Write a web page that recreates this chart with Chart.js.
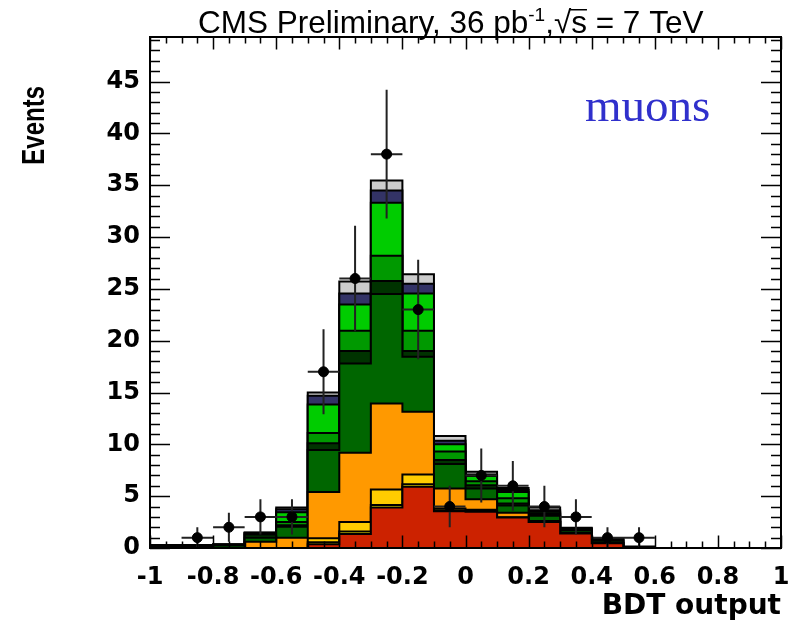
<!DOCTYPE html>
<html><head><meta charset="utf-8">
<script src="https://cdn.jsdelivr.net/npm/chart.js@4"></script>
<style>html,body{margin:0;padding:0;background:#fff;overflow:hidden}</style>
</head><body>
<canvas id="c" width="791" height="623"></canvas>
<script>
// ---- data ----
const binEdges = [-1,-0.9,-0.8,-0.7,-0.6,-0.5,-0.4,-0.3,-0.2,-0.1,0,0.1,0.2,0.3,0.4,0.5,0.6,0.7,0.8,0.9,1];
const binCenters = [-0.95,-0.85,-0.75,-0.65,-0.55,-0.45,-0.35,-0.25,-0.15,-0.05,0.05,0.15,0.25,0.35,0.45,0.55,0.65,0.75,0.85,0.95];
const xTickValues = [-1,-0.8,-0.6,-0.4,-0.2,0,0.2,0.4,0.6,0.8,1];
const xTickLabels = ['-1','-0.8','-0.6','-0.4','-0.2','0','0.2','0.4','0.6','0.8','1'];
const yTickValues = [0,5,10,15,20,25,30,35,40,45];
const yTickLabels = ['0','5','10','15','20','25','30','35','40','45'];

// stacked background components, bottom to top
const redComp     = [0,0,0,0,0,0.35,1.35,3.9,5.9,3.55,3.5,2.95,2.5,1.4,0.45,0,0,0,0,0];
const yellowThin  = [0,0,0,0,0,0.2,0.25,0.25,0.25,0.1,0.1,0,0,0,0,0,0,0,0,0];
const yellowComp  = [0,0,0,0,0,0.4,0.9,1.5,0.95,0.15,0.1,0,0,0,0,0,0,0,0,0];
const orangeComp  = [0,0,0,0.6,1.0,4.45,6.7,8.3,6.05,1.95,1.0,0.45,0.1,0.05,0.05,0,0,0,0,0];
const darkGreen   = [0.2,0.2,0.25,0.4,1.05,4.05,8.6,10.55,5.3,2.35,1.05,0.7,0.5,0.25,0.2,0.05,0,0,0,0];
const darkerGreen = [0.05,0.05,0.05,0.3,0.15,0.65,1.2,1.25,0.55,0.4,0.3,0.2,0.15,0.05,0.05,0,0,0,0,0];
const medGreen    = [0,0,0.02,0.1,0.3,1.0,1.95,2.45,1.95,0.8,0.4,0.5,0.1,0.05,0.05,0,0,0,0,0];
const brightGreen = [0,0,0,0.05,0.95,2.75,2.55,5.1,3.6,0.7,0.5,0.6,0.15,0.05,0.05,0,0,0,0,0];
const navyComp    = [0.02,0.02,0.02,0.03,0.3,0.85,1.05,1.2,0.95,0.35,0.15,0.2,0.15,0.05,0.05,0,0,0,0,0];
const grayComp    = [0.03,0.03,0.03,0.02,0.15,0.3,1.15,0.95,0.9,0.45,0.25,0.2,0.25,0.05,0.05,0.1,0,0,0,0];

// observed data and errors
const dataCounts = [null,1,2,3,3,17,26,38,23,4,7,6,4,3,1,1,null,null,null,null];
const dataErrors = [null,1,1.4,1.7,1.7,4.1,5.1,6.2,4.8,2,2.6,2.4,2,1.7,1,1,null,null,null,null];

const components = [
  {v: redComp,     c: '#cc2200'},
  {v: yellowThin,  c: '#ffee00'},
  {v: yellowComp,  c: '#ffcc00'},
  {v: orangeComp,  c: '#ff9900'},
  {v: darkGreen,   c: '#006600'},
  {v: darkerGreen, c: '#003300'},
  {v: medGreen,    c: '#009900'},
  {v: brightGreen, c: '#00cc00'},
  {v: navyComp,    c: '#333366'},
  {v: grayComp,    c: '#cccccc'}
];

const datasets = components.map((comp, k) => ({
  type: 'line',
  data: binEdges.map((x, i) => ({x: x, y: i < comp.v.length ? comp.v[i] : 0})),
  backgroundColor: comp.c,
  borderColor: '#000',
  borderWidth: 2,
  pointRadius: 0,
  stepped: true,
  fill: k === 0 ? 'origin' : '-1',
  stack: 'bkg',
  order: 1
}));
const obsIndex = datasets.length;
datasets.push({
  type: 'scatter',
  data: binCenters.map((x, i) => ({x: x, y: dataCounts[i]})),
  backgroundColor: '#000',
  borderColor: '#000',
  pointRadius: 5,
  showLine: false,
  stack: 'obs',
  order: 0
});

const labelFamily = "'DejaVu Sans', Verdana, sans-serif";

const decor = {
  id: 'decor',
  beforeDatasetDraw(chart, args) {
    if (args.index !== obsIndex) return;
    const {ctx, chartArea: a} = chart;
    const xs = chart.scales.x, ys = chart.scales.y;
    ctx.save();
    ctx.beginPath(); ctx.rect(a.left, a.top, a.right - a.left, a.bottom - a.top); ctx.clip();
    ctx.strokeStyle = '#222'; ctx.lineWidth = 2;
    dataCounts.forEach((n, i) => {
      if (n === null) return;
      const e = dataErrors[i];
      const xc = xs.getPixelForValue(binCenters[i]);
      const xl = xs.getPixelForValue(binEdges[i]);
      const xr = xs.getPixelForValue(binEdges[i + 1]);
      const yc = ys.getPixelForValue(n);
      ctx.beginPath();
      ctx.moveTo(xl, yc); ctx.lineTo(xr, yc);
      ctx.moveTo(xc, ys.getPixelForValue(Math.max(0, n - e)));
      ctx.lineTo(xc, ys.getPixelForValue(n + e));
      ctx.stroke();
    });
    ctx.restore();
  },
  afterDatasetsDraw(chart) {
    const {ctx, chartArea: a} = chart;
    const xs = chart.scales.x, ys = chart.scales.y;
    ctx.save();
    ctx.strokeStyle = '#000'; ctx.lineWidth = 1.5;
    ctx.beginPath();
    for (let v = 0; v <= 49; v += 1) {
      const y = Math.round(ys.getPixelForValue(v)) + 0.5;
      const len = (v % 5 === 0) ? 20 : 10;
      ctx.moveTo(a.left, y); ctx.lineTo(a.left + len, y);
      ctx.moveTo(a.right, y); ctx.lineTo(a.right - len, y);
    }
    for (let k = 0; k <= 40; k++) {
      const v = -1 + k * 0.05;
      const x = Math.round(xs.getPixelForValue(v)) + 0.5;
      const len = (k % 4 === 0) ? 12.5 : 6.5;
      ctx.moveTo(x, a.bottom); ctx.lineTo(x, a.bottom - len);
      ctx.moveTo(x, a.top); ctx.lineTo(x, a.top + len);
    }
    ctx.stroke();
    ctx.lineWidth = 2;
    ctx.strokeRect(a.left, a.top, a.right - a.left, a.bottom - a.top);
    ctx.restore();
  },
  afterDraw(chart) {
    const {ctx, chartArea: a} = chart;
    ctx.save();
    ctx.fillStyle = '#000';
    const big = "31.5px 'Liberation Sans', Arial, sans-serif";
    const small = "19px 'Liberation Sans', Arial, sans-serif";
    const parts = [
      {t: 'CMS Preliminary, 36 pb', f: big, dy: 0},
      {t: '-1', f: small, dy: -12},
      {t: ',', f: big, dy: 0},
      {t: '\u221A', f: big, dy: 0},
      {t: 's', f: big, dy: 0, over: true},
      {t: ' = 7 TeV', f: big, dy: 0}
    ];
    parts.forEach(p => { ctx.font = p.f; p.w = ctx.measureText(p.t).width; });
    let x = 198;
    const base = 33;
    ctx.textBaseline = 'alphabetic'; ctx.textAlign = 'left';
    parts.forEach(p => {
      ctx.font = p.f;
      ctx.fillText(p.t, x, base + p.dy);
      if (p.over) ctx.fillRect(x - 1, base - 24, p.w + 1, 1.5);
      x += p.w;
    });
    // y axis title (rotated)
    ctx.font = "bold 32px 'Liberation Sans', Arial, sans-serif";
    ctx.save();
    ctx.translate(44, 86);
    ctx.rotate(-Math.PI / 2);
    ctx.scale(0.75, 1);
    ctx.textAlign = 'right'; ctx.textBaseline = 'alphabetic';
    ctx.fillText('Events', 0, 0);
    ctx.restore();
    // x axis title
    ctx.font = "bold 28px " + labelFamily;
    ctx.textAlign = 'right'; ctx.textBaseline = 'alphabetic';
    ctx.fillText('BDT output', a.right, 614);
    // channel label
    ctx.font = "47px 'Liberation Serif', 'Times New Roman', serif";
    ctx.fillStyle = '#3030cc';
    ctx.textAlign = 'left';
    ctx.fillText('muons', 585, 121);
    ctx.restore();
  }
};

new Chart(document.getElementById('c'), {
  type: 'line',
  data: {datasets},
  options: {
    responsive: false,
    animation: false,
    events: [],
    layout: {padding: {top: 37, right: 10, left: 0, bottom: 0}},
    plugins: {legend: {display: false}, tooltip: {enabled: false}, title: {display: false}},
    scales: {
      x: {
        type: 'linear', min: -1, max: 1,
        grid: {display: false, drawTicks: false}, border: {display: false},
        afterBuildTicks: s => { s.ticks = xTickValues.map(v => ({value: v})); },
        afterFit: s => { s.height = 75; s.paddingLeft = 0; s.paddingRight = 0; },
        ticks: {
          autoSkip: false, maxRotation: 0, padding: 15, color: '#000',
          font: {family: labelFamily, size: 24, weight: 'bold'},
          callback: (v, i) => xTickLabels[i]
        }
      },
      y: {
        type: 'linear', min: 0, max: 49.3, stacked: true,
        grid: {display: false, drawTicks: false}, border: {display: false},
        afterBuildTicks: s => { s.ticks = yTickValues.map(v => ({value: v})); },
        afterFit: s => { s.width = 150; s.paddingTop = 0; s.paddingBottom = 0; },
        ticks: {
          autoSkip: false, padding: 10, color: '#000',
          font: {family: labelFamily, size: 24, weight: 'bold'},
          callback: (v, i) => yTickLabels[i]
        }
      }
    }
  },
  plugins: [decor]
});
</script>
</body></html>
